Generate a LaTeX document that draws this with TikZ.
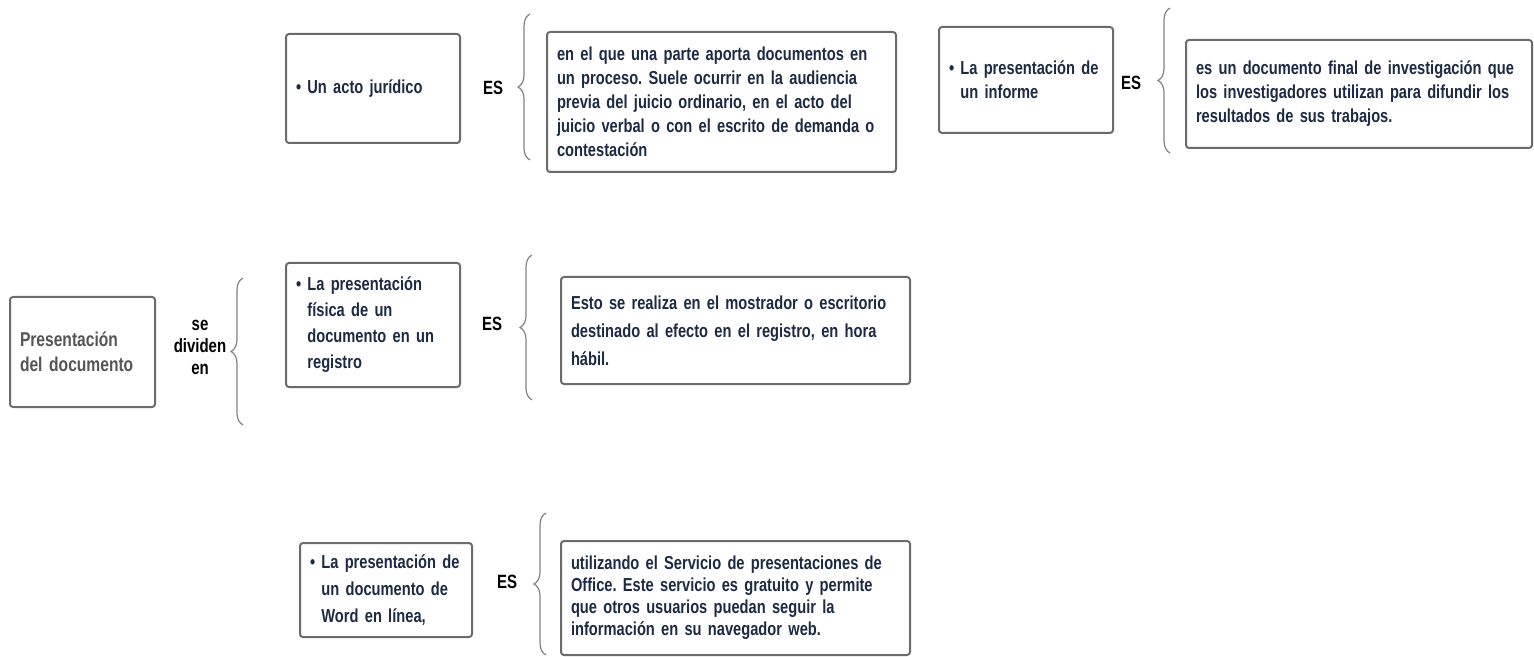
\documentclass[tikz,border=0pt]{standalone}
\usepackage{fontspec}
\setmainfont{Liberation Sans}[FakeStretch=0.78, WordSpace=0.8]
\usetikzlibrary{decorations.pathreplacing}

\definecolor{boxline}{HTML}{6B6B6B}
\definecolor{navy}{HTML}{1C2A44}
\definecolor{titlegray}{HTML}{555555}

\newcommand{\sangria}{\hphantom{\textbullet\ }}
\frenchspacing

\tikzset{
  box/.style={draw=boxline, line width=1pt, rounded corners=1.5pt, inner xsep=5pt,
    align=left, text=navy, font=\bfseries\fontsize{9.4}{12}\selectfont},
  lbl/.style={align=center, font=\bfseries\fontsize{9.6}{11}\selectfont},
  llave/.style={draw=boxline!85, line width=0.6pt, decorate,
    decoration={brace, amplitude=6pt}},
}

\begin{document}
\begin{tikzpicture}[x=0.5pt,y=-0.5pt]
  \useasboundingbox (0,0) rectangle (1534,657);

  % main topic
  \node[box, text=titlegray, text width=62.5pt, minimum height=55pt,
    font=\bfseries\fontsize{10}{12.5}\selectfont] (tema) at (82.5,352)
    {Presentación\\del documento};
  \node[lbl] (divide) at (200,347) {se\\dividen\\en};
  \coordinate (llaveIa) at (243,425);
  \coordinate (llaveIb) at (243,278);
  \draw[llave] (llaveIa) -- (llaveIb);

  % acto juridico
  \node[box, text width=77pt, minimum height=54.5pt] (acto) at (373,88.5)
    {\textbullet\ Un acto jurídico};
  \node[lbl] (esA) at (493,88) {ES};
  \coordinate (llaveAa) at (530,160);
  \coordinate (llaveAb) at (530,14);
  \draw[llave] (llaveAa) -- (llaveAb);
  \node[box, text width=164.5pt, minimum height=70pt] (actoDef) at (721.5,102)
    {en el que una parte aporta documentos en\\
     un proceso. Suele ocurrir en la audiencia\\
     previa del juicio ordinario, en el acto del\\
     juicio verbal o con el escrito de demanda o\\
     contestación};

  % informe
  \node[box, text width=77pt, minimum height=53pt] (informe) at (1026,80)
    {\textbullet\ La presentación de\\\sangria un informe};
  \node[lbl] (esB) at (1131,83) {ES};
  \coordinate (llaveBa) at (1170,153);
  \coordinate (llaveBb) at (1170,8);
  \draw[llave] (llaveBa) -- (llaveBb);
  \node[box, text width=163pt, minimum height=54pt] (informeDef) at (1359,94)
    {es un documento final de investigación que\\
     los investigadores utilizan para difundir los\\
     resultados de sus trabajos.};

  % registro
  \node[box, text width=77pt, minimum height=62pt,
    font=\bfseries\fontsize{9.4}{13}\selectfont] (fisica) at (373,325)
    {\textbullet\ La presentación\\\sangria física de un\\\sangria documento en un\\\sangria registro};
  \node[lbl] (esC) at (492,324) {ES};
  \coordinate (llaveCa) at (532,400);
  \coordinate (llaveCb) at (532,255);
  \draw[llave] (llaveCa) -- (llaveCb);
  \node[box, text width=164.5pt, minimum height=53.5pt,
    font=\bfseries\fontsize{9.4}{14}\selectfont] (fisicaDef) at (735.5,330.5)
    {Esto se realiza en el mostrador o escritorio\\
     destinado al efecto en el registro, en hora\\
     hábil.};

  % word en linea
  \node[box, text width=76pt, minimum height=47pt,
    font=\bfseries\fontsize{9.4}{13.5}\selectfont] (word) at (386,590)
    {\textbullet\ La presentación de\\\sangria un documento de\\\sangria Word en línea,};
  \node[lbl] (esD) at (507,582) {ES};
  \coordinate (llaveDa) at (546,655);
  \coordinate (llaveDb) at (546,513);
  \draw[llave] (llaveDa) -- (llaveDb);
  \node[box, text width=164.5pt, minimum height=57pt,
    font=\bfseries\fontsize{9.4}{11}\selectfont] (wordDef) at (735.5,598)
    {utilizando el Servicio de presentaciones de\\
     Office. Este servicio es gratuito y permite\\
     que otros usuarios puedan seguir la\\
     información en su navegador web.};

\end{tikzpicture}
\end{document}
